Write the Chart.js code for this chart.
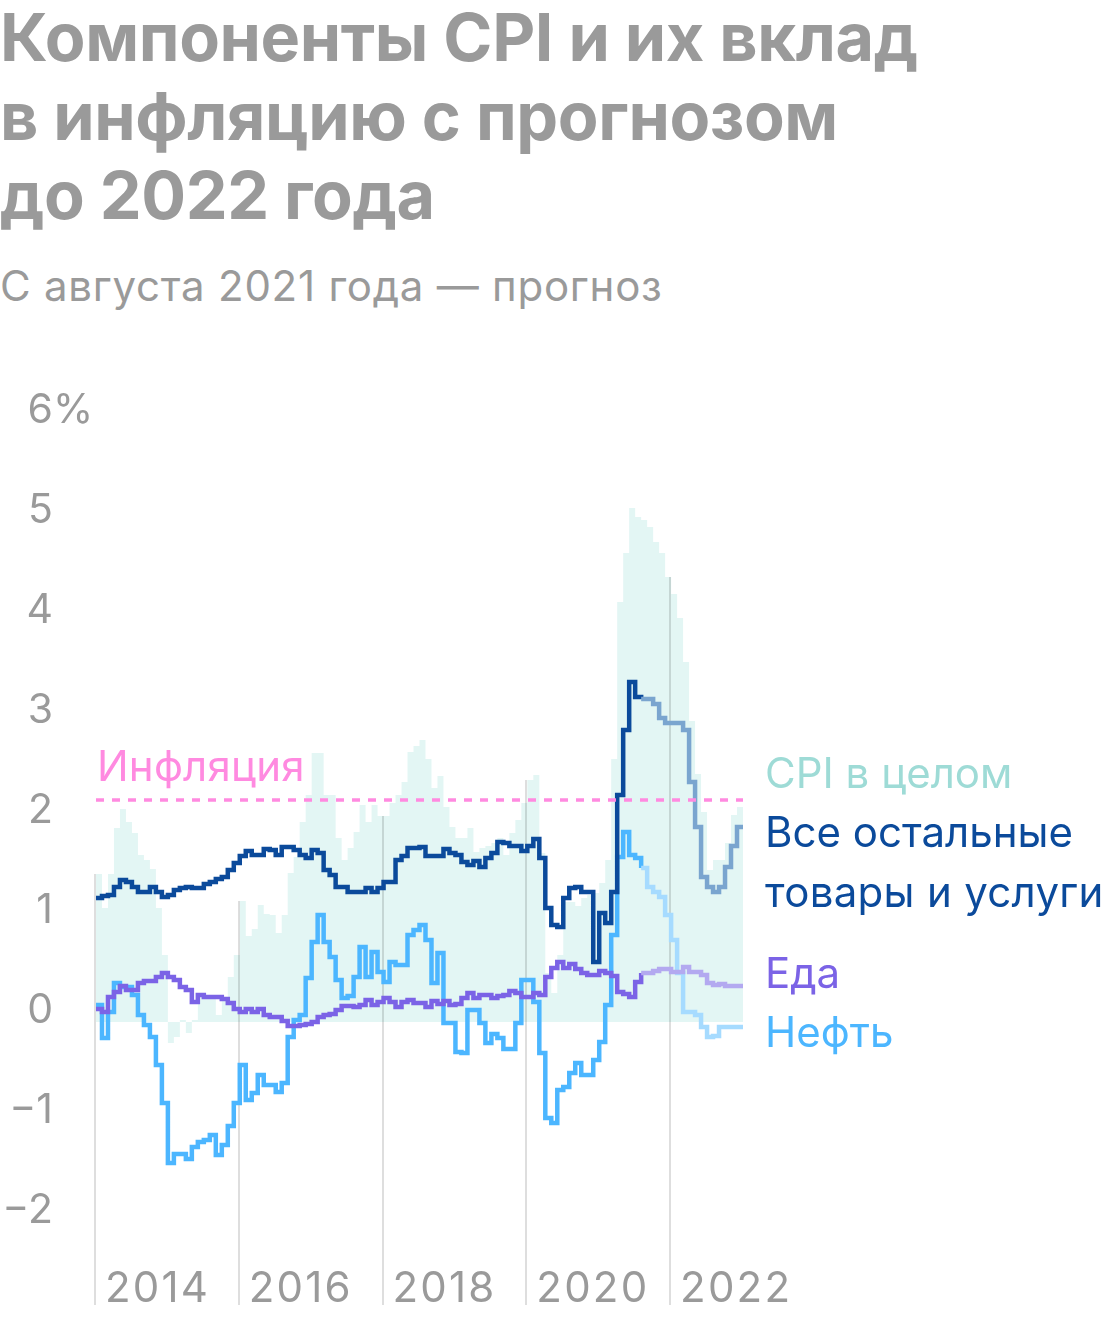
<!DOCTYPE html>
<html lang="ru">
<head>
<meta charset="utf-8">
<script src="https://cdn.jsdelivr.net/npm/chart.js@4.4.1/dist/chart.umd.min.js"></script>
<style>
  body { margin: 0; background: #fff; width: 1120px; height: 1320px; position: relative; overflow: hidden; font-family: Inter, "Noto Sans", sans-serif; }
  #chart { position: absolute; left: 0; top: 0; }
  .title { position: absolute; left: 0; top: -2px; font-weight: 700; font-size: 66.5px; line-height: 79px; color: #9a9a9a; white-space: nowrap; letter-spacing: -0.4px; }
  .sub { position: absolute; left: 0; top: 262px; font-size: 42px; line-height: 48px; color: #9a9a9a; white-space: nowrap; letter-spacing: 0.75px; }
  .lbl { position: absolute; font-size: 42px; line-height: 48px; white-space: nowrap; }
</style>
</head>
<body>
<div class="title">Компоненты CPI и их вклад<br>в инфляцию с прогнозом<br>до 2022 года</div>
<div class="sub">С августа 2021 года — прогноз</div>
<canvas id="chart" width="1120" height="1320"></canvas>
<div class="lbl" style="left:97px; top:742px; color:#ff8ae0; letter-spacing:0.2px">Инфляция</div>
<div class="lbl" style="left:765px; top:749px; color:#9edbd6">CPI в целом</div>
<div class="lbl" style="left:765px; top:808px; color:#0b4a9b">Все остальные</div>
<div class="lbl" style="left:765px; top:868px; color:#0b4a9b; letter-spacing:0.3px">товары и услуги</div>
<div class="lbl" style="left:765px; top:949px; color:#7b63e6">Еда</div>
<div class="lbl" style="left:765px; top:1008px; color:#4cb6ff">Нефть</div>
<script>
// monthly, Jan 2014 .. Dec 2022, percentage points
const cpiTotal = [1.34, 1.00, 1.34, 1.80, 1.99, 1.86, 1.75, 1.53, 1.48, 1.39, 1.00, 0.53,
  -0.35, -0.29, -0.12, -0.25, -0.12, 0.11, 0.13, 0.13, -0.07, 0.08, 0.31, 0.53,
  1.07, 0.72, 0.79, 1.03, 0.94, 0.93, 0.75, 0.93, 1.35, 1.51, 1.86, 2.13,
  2.55, 2.55, 2.13, 2.13, 1.70, 1.48, 1.60, 1.76, 2.03, 1.86, 2.03, 1.92,
  1.92, 2.05, 2.13, 2.26, 2.56, 2.62, 2.68, 2.49, 2.20, 2.32, 2.01, 1.81,
  1.70, 1.70, 1.80, 1.56, 1.60, 1.62, 1.65, 1.70, 1.53, 1.75, 1.88, 2.05,
  2.28, 2.33, 1.55, 0.35, 0.15, 0.53, 1.06, 1.06, 1.02, 1.10, 1.13, 1.15,
  1.25, 1.48, 2.49, 4.06, 4.55, 5.00, 4.91, 4.88, 4.81, 4.66, 4.55, 4.31,
  4.14, 3.90, 3.46, 2.87, 2.34, 1.96, 1.38, 1.48, 1.48, 1.65, 1.93, 2.01];

const otherGoods = [1.10, 1.12, 1.13, 1.21, 1.28, 1.26, 1.21, 1.16, 1.16, 1.21, 1.16, 1.11,
  1.13, 1.18, 1.20, 1.21, 1.20, 1.20, 1.24, 1.26, 1.29, 1.31, 1.38, 1.45,
  1.52, 1.57, 1.53, 1.53, 1.59, 1.58, 1.53, 1.61, 1.61, 1.58, 1.53, 1.50,
  1.58, 1.55, 1.38, 1.33, 1.21, 1.21, 1.16, 1.16, 1.16, 1.20, 1.16, 1.20,
  1.26, 1.26, 1.48, 1.52, 1.60, 1.60, 1.61, 1.52, 1.52, 1.52, 1.59, 1.55,
  1.53, 1.46, 1.43, 1.47, 1.41, 1.50, 1.55, 1.66, 1.65, 1.62, 1.62, 1.57,
  1.62, 1.69, 1.50, 1.00, 0.83, 0.81, 1.10, 1.20, 1.21, 1.16, 1.16, 0.46,
  0.95, 0.85, 1.16, 2.13, 2.78, 3.26, 3.11, 3.09, 3.09, 3.04, 2.90, 2.85,
  2.85, 2.85, 2.78, 2.26, 1.81, 1.31, 1.21, 1.16, 1.21, 1.41, 1.62, 1.81];

const food = [-0.01, -0.04, 0.11, 0.16, 0.22, 0.18, 0.18, 0.25, 0.27, 0.27, 0.31, 0.35,
  0.31, 0.28, 0.21, 0.18, 0.06, 0.13, 0.11, 0.11, 0.11, 0.09, 0.05, -0.01,
  -0.04, -0.01, -0.04, -0.01, -0.07, -0.09, -0.09, -0.13, -0.18, -0.18, -0.17, -0.16,
  -0.14, -0.09, -0.07, -0.06, -0.02, 0.02, 0.02, 0.01, 0.03, 0.08, 0.03, 0.06,
  0.10, 0.06, 0.01, 0.06, 0.08, 0.05, 0.05, 0.01, 0.07, 0.04, 0.07, 0.03,
  0.04, 0.10, 0.15, 0.10, 0.13, 0.13, 0.10, 0.12, 0.13, 0.17, 0.15, 0.11,
  0.11, 0.15, 0.13, 0.31, 0.40, 0.46, 0.40, 0.44, 0.39, 0.35, 0.33, 0.33,
  0.37, 0.35, 0.32, 0.16, 0.14, 0.11, 0.26, 0.35, 0.35, 0.37, 0.39, 0.39,
  0.36, 0.36, 0.41, 0.36, 0.36, 0.33, 0.25, 0.23, 0.24, 0.22, 0.22, 0.22];

const oil = [0.03, -0.30, -0.04, 0.25, 0.21, 0.21, 0.13, -0.07, -0.17, -0.29, -0.57, -0.95,
  -1.55, -1.46, -1.46, -1.51, -1.39, -1.34, -1.32, -1.27, -1.47, -1.37, -1.18, -0.95,
  -0.57, -0.92, -0.85, -0.67, -0.77, -0.77, -0.84, -0.75, -0.29, -0.12, -0.07, 0.30,
  0.66, 0.93, 0.66, 0.51, 0.28, 0.10, 0.12, 0.31, 0.61, 0.31, 0.56, 0.36,
  0.26, 0.46, 0.43, 0.43, 0.73, 0.78, 0.83, 0.68, 0.25, 0.55, -0.15, -0.15,
  -0.44, -0.45, -0.02, -0.02, -0.15, -0.35, -0.26, -0.30, -0.41, -0.41, -0.15, 0.28,
  0.28, 0.06, -0.45, -1.10, -1.15, -0.82, -0.79, -0.65, -0.55, -0.67, -0.67, -0.52,
  -0.34, 0.03, 0.73, 1.51, 1.76, 1.53, 1.50, 1.40, 1.21, 1.16, 1.11, 0.93,
  0.68, 0.35, -0.04, -0.04, -0.07, -0.19, -0.29, -0.28, -0.19, -0.19, -0.19, -0.19];

const inflationLevel = 2.08;
const areaBase = -0.14;
const forecastStart = 91; // Aug 2021
const yearTicks = [0, 24, 48, 72, 96];
const yearLabels = ["2014", "2016", "2018", "2020", "2022"];
const yTicks = [-2, -1, 0, 1, 2, 3, 4, 5, 6];

// month index -> point; extra point closes the last step
function pts(arr) {
    let p = arr.map((v, i) => ({ x: i, y: v }));
    p.push({ x: arr.length, y: arr[arr.length - 1] });
    return p;
}

function twoTone(dark, light) {
    return ctx => ctx.p0DataIndex >= forecastStart ? light : dark;
}

const axisPlugin = {
    id: 'axisText',
    afterDatasetDraw(chart, args) {
        if (args.index !== 0) return;
        const ctx = chart.ctx, xs = chart.scales.x, ys = chart.scales.y;
        const bottom = chart.chartArea.bottom;
        ctx.save();
        ctx.strokeStyle = 'rgba(0,0,0,0.13)';
        ctx.lineWidth = 2;
        yearTicks.forEach(i => {
            const x = Math.round(xs.getPixelForValue(i)) - 1;
            const top = ys.getPixelForValue(Math.max(cpiTotal[i], i > 0 ? cpiTotal[i - 1] : cpiTotal[i]));
            ctx.beginPath();
            ctx.moveTo(x, top);
            ctx.lineTo(x, bottom);
            ctx.stroke();
        });
        ctx.restore();
    },
    afterDraw(chart) {
        const ctx = chart.ctx, xs = chart.scales.x, ys = chart.scales.y;
        ctx.save();
        ctx.fillStyle = '#9a9a9a';
        ctx.textBaseline = 'alphabetic';
        ctx.textAlign = 'left';
        ctx.font = '42px Inter';
        ctx.letterSpacing = '2.2px';
        yearTicks.forEach((i, k) => {
            ctx.fillText(yearLabels[k], xs.getPixelForValue(i) + 9, chart.chartArea.bottom - 3);
        });
        ctx.letterSpacing = '0px';
        ctx.font = '41px Inter';
        yTicks.forEach(v => {
            const y = ys.getPixelForValue(v) + 15;
            ctx.textAlign = 'right';
            ctx.fillText(v < 0 ? '\u2212' + Math.abs(v) : String(v), 53, y);
            if (v === 6) {
                ctx.textAlign = 'left';
                ctx.fillText('%', 53, y);
            }
        });
        ctx.restore();
    }
};

const lineBase = { stepped: 'before', pointRadius: 0, borderWidth: 4.5, fill: false, clip: false, borderCapStyle: 'butt', borderJoinStyle: 'miter' };

new Chart(document.getElementById('chart'), {
    type: 'line',
    data: {
        datasets: [
            { data: pts(cpiTotal), stepped: 'before', pointRadius: 0, borderWidth: 0, backgroundColor: '#e3f6f4', fill: { value: areaBase }, order: 10 },
            Object.assign({}, lineBase, { data: pts(oil), borderColor: '#4cb6ff', segment: { borderColor: twoTone('#4cb6ff', '#a6dbff') }, order: 4 }),
            Object.assign({}, lineBase, { data: pts(food), borderColor: '#7b63e6', segment: { borderColor: twoTone('#7b63e6', '#b3a9f0') }, order: 3 }),
            Object.assign({}, lineBase, { data: pts(otherGoods), borderColor: '#0b4a9b', segment: { borderColor: twoTone('#0b4a9b', '#7aa5cf') }, order: 2 }),
            { data: [{ x: 0, y: inflationLevel }, { x: cpiTotal.length, y: inflationLevel }], borderColor: '#ff8ae0', borderWidth: 3.5, borderDash: [8, 8], pointRadius: 0, fill: false, order: 1 }
        ]
    },
    options: {
        responsive: false,
        devicePixelRatio: 1,
        animation: false,
        layout: { padding: { left: 96, right: 377, top: 408, bottom: 15 } },
        scales: {
            x: { type: 'linear', min: 0, max: cpiTotal.length, display: false },
            y: { min: -2.97, max: 6, display: false }
        },
        plugins: { legend: { display: false }, tooltip: { enabled: false } }
    },
    plugins: [axisPlugin]
});
</script>
</body>
</html>
